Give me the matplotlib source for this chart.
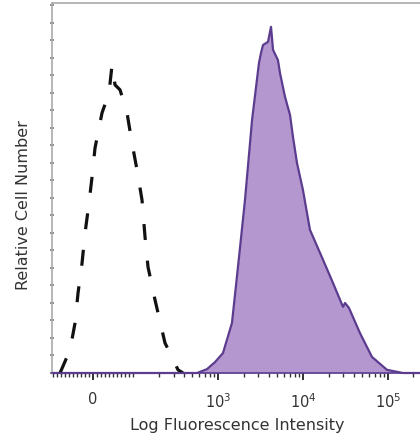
import numpy as np
import matplotlib.pyplot as plt

# isotype control (dashed)
ctrl_x = [-82.6, -57.6, -45.0, -37.5, -27.5, -20.0, -10.0, -2.5, 5.0, 22.5, 40.0,
          47.6, 55.1, 67.6, 85.1, 97.6, 111.6, 127.8, 138.6, 150.3, 181.6, 238, 339, 388]
ctrl_y = [0, 6.6, 14.3, 22.9, 31.4, 40.0, 48.6, 56.0, 64.3, 74.3, 80.0,
          88.0, 82.3, 80.9, 74.3, 65.7, 58.0, 49.4, 38.9, 30.3, 20.9, 8.6, 0.9, 0]

# stained sample (filled purple)
stain_x = [-103, 567, 743, 923, 1146, 1462, 1770, 2080, 2520, 3040, 3210, 3390, 3880,
           4210, 4450, 5080, 5370, 6150, 7050, 7640, 8510, 10000, 12100, 16700,
           22600, 29600, 31300, 34800, 46900, 64900, 97500, 150300, 262144]
stain_y = [0, 0, 1.1, 3.1, 5.7, 14.3, 33.1, 49.4, 72.3, 88.6, 91.4, 93.7, 94.6,
           98.9, 92.3, 89.4, 85.7, 78.9, 73.7, 67.4, 60.0, 52.3, 40.9, 33.1,
           25.7, 18.9, 20.0, 18.6, 11.4, 4.6, 0.9, 0, 0]

tick_pos = [0, 1e3, 1e4, 1e5]
tick_lab = ['0', r'$10^3$', r'$10^4$', r'$10^5$']

fig = plt.figure(figsize=(4.2, 4.36), dpi=100)
ax = fig.add_axes([0.1238, 0.1445, 0.8845, 0.8486])

ax.set_xscale('symlog', linthresh=100, linscale=0.423)
ax.fill_between(stain_x, stain_y, color='#b597d0', lw=0)
ax.plot(stain_x, stain_y, color='#5b3c8e', lw=1.6, clip_on=False)
ax.plot(ctrl_x, ctrl_y, color='#111111', lw=2.3, ls=(0, (5, 6.5)))

ax.set_xlim(-103, 262144)
ax.set_ylim(0, 105.7)

# ticks
ax.set_xticks(tick_pos)
ax.set_xticklabels(tick_lab)
minor = list(range(-100, 101, 10))
for dec in [100, 1000, 10000, 100000]:
    minor += [k * dec for k in range(2, 10) if k * dec < 262144]
ax.set_xticks(minor, minor=True)
ax.tick_params(axis='x', which='major', direction='out', length=5, width=1.3,
               color='#222222', labelsize=10.5, labelcolor='#333333', pad=9)
ax.tick_params(axis='x', which='minor', direction='out', length=3, width=1,
               color='#333333')
ax.set_yticks(np.arange(0, 106, 15))
ax.set_yticks(np.arange(0, 106, 5), minor=True)
ax.set_yticklabels([])
ax.tick_params(axis='y', which='both', direction='inout', length=2.5, width=1.2,
               color='#777777')

for s in ['left', 'top']:
    ax.spines[s].set_color('#aaaaaa')
    ax.spines[s].set_linewidth(1.2)
ax.spines['right'].set_visible(False)
ax.spines['bottom'].set_color('#5b3c8e')
ax.spines['bottom'].set_linewidth(1.2)

ax.set_xlabel('Log Fluorescence Intensity', fontsize=11.5, color='#333333', labelpad=5)
ax.set_ylabel('Relative Cell Number', fontsize=11.5, color='#333333')
ax.yaxis.set_label_coords(-0.057, 0.454)

fig.savefig('out.png', dpi=100)
